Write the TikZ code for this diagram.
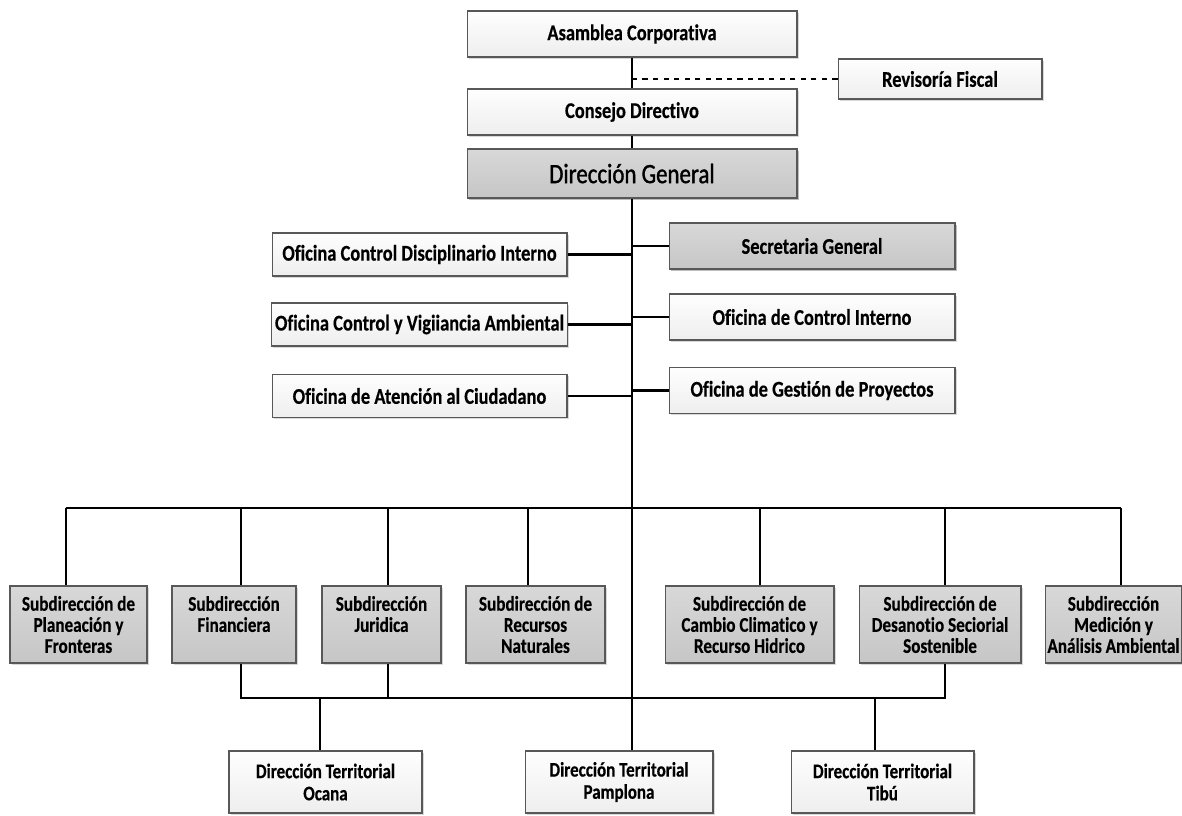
\documentclass[tikz,border=0pt]{standalone}
\usepackage{fontspec}
\setmainfont{Carlito}[FakeStretch=0.82, Ligatures=NoCommon, BoldFeatures={FakeBold=0.4}]
\newfontfamily\dgfont{Carlito}[FakeStretch=0.82, Ligatures=NoCommon, FakeBold=1.2]
\usetikzlibrary{positioning, shadows}
\definecolor{myborder}{RGB}{88,88,88}
\definecolor{mywhite}{RGB}{254,254,254}
\definecolor{mylight}{RGB}{238,238,238}
\definecolor{mygray}{RGB}{198,198,198}
\definecolor{mygraylt}{RGB}{216,216,216}
\tikzset{
  box/.style={rectangle, draw=myborder, top color=mywhite, bottom color=mylight,
    line width=0.6pt, inner sep=2pt, align=center,
    font=\bfseries\fontsize{12.8}{15}\selectfont,
    drop shadow={shadow xshift=0.9pt, shadow yshift=-0.9pt, opacity=0.3}},
  graybox/.style={box, top color=mygraylt, bottom color=mygray},
  topbox/.style={box, minimum width=6.6cm, minimum height=0.92cm},
  leftbox/.style={box, minimum width=5.9cm, minimum height=0.86cm},
  rightbox/.style={box, minimum width=5.72cm, minimum height=0.92cm},
  subbox/.style={graybox, minimum height=1.54cm, inner sep=1pt,
    font=\bfseries\fontsize{11.9}{12}\selectfont},
  terrbox/.style={box, minimum height=1.24cm,
    font=\bfseries\fontsize{11.8}{12.6}\selectfont},
  line/.style={line width=1.6pt, color=black},
  dashline/.style={line width=1pt, color=black, dashed}
}
\begin{document}
\begin{tikzpicture}[x=0.02cm, y=-0.02cm]
  \useasboundingbox[fill=white] (0,0) rectangle (1182,815);

  % Top of the chart
  \node[topbox] (asam) at (632,34) {Asamblea Corporativa};
  \node[box, minimum width=4.08cm, minimum height=0.8cm] (rev) at (940,79) {Revisoría Fiscal};
  \node[topbox] (cons) at (632,112) {Consejo Directivo};
  \node[topbox, graybox, minimum height=0.98cm, font=\dgfont\fontsize{15.9}{17}\selectfont] (dg) at (632,173.5) {Dirección General};

  % Offices
  \node[leftbox] (l1) at (419.5,254.5) {Oficina Control Disciplinario Interno};
  \node[leftbox] (l2) at (419.5,324.5) {Oficina Control y Vigiiancia Ambiental};
  \node[leftbox] (l3) at (419.5,396) {Oficina de Atención al Ciudadano};
  \node[rightbox, graybox] (r1) at (812,246) {Secretaria General};
  \node[rightbox] (r2) at (812,317) {Oficina de Control Interno};
  \node[rightbox] (r3) at (812,390.5) {Oficina de Gestión de Proyectos};

  % Subdirecciones
  \node[subbox, minimum width=2.74cm] (s1) at (78.5,624.5) {Subdirección de\\Planeación y\\Fronteras};
  \node[subbox, minimum width=2.48cm] (s2) at (234,624.5) {Subdirección\\Financiera\\\mbox{}};
  \node[subbox, minimum width=2.38cm] (s3) at (381.5,624.5) {Subdirección\\Juridica\\\mbox{}};
  \node[subbox, minimum width=2.78cm] (s4) at (535.5,624.5) {Subdirección de\\Recursos\\Naturales};
  \node[subbox, minimum width=3.38cm] (s5) at (749.5,624.5) {Subdirección de\\Cambio Climatico y\\Recurso Hidrico};
  \node[subbox, minimum width=3.24cm] (s6) at (940,624.5) {Subdirección de\\Desanotio Seciorial\\Sostenible};
  \node[subbox, minimum width=2.66cm] (s7) at (1113.5,624.5) {Subdirección\\Medición y\\Análisis Ambiental};

  % Direcciones territoriales
  \node[terrbox, minimum width=3.86cm] (oca) at (325.5,782) {Dirección Territorial\\Ocana};
  \node[terrbox, minimum width=3.76cm] (pam) at (619,782) {Dirección Territorial\\Pamplona};
  \node[terrbox, minimum width=3.66cm] (tib) at (882.5,782) {Dirección Territorial\\Tibú};

  % Main trunk
  \draw[line] (asam.south) -- (cons.north);
  \draw[line] (cons.south) -- (dg.north);
  \draw[line] (dg.south) -- (dg.south |- pam.north);
  \draw[dashline] (rev.west) -- (rev.west -| asam.south);

  % Office branches
  \foreach \n in {l1,l2,l3}
    \draw[line] (\n.east) -- (\n.east -| dg.south);
  \foreach \n in {r1,r2,r3}
    \draw[line] (\n.west) -- (\n.west -| dg.south);

  % Bus to the subdirecciones
  \foreach \x [count=\i] in {66,241,388,528,760,945,1121}
    \coordinate (d\i) at (\x,508);
  \draw[line] (d1) -- (d7);
  \foreach \i in {1,...,7}
    \draw[line] (d\i) -- (d\i |- s\i.north);

  % Lower bus to the territorial offices
  \coordinate (low) at (0,698);
  \draw[line] (d2 |- s2.south) -- (d2 |- low) -- (d6 |- low) -- (d6 |- s6.south);
  \draw[line] (d3 |- s3.south) -- (d3 |- low);
  \coordinate (t1) at (320,698);
  \coordinate (t3) at (875,698);
  \draw[line] (t1) -- (t1 |- oca.north);
  \draw[line] (t3) -- (t3 |- tib.north);
\end{tikzpicture}
\end{document}
